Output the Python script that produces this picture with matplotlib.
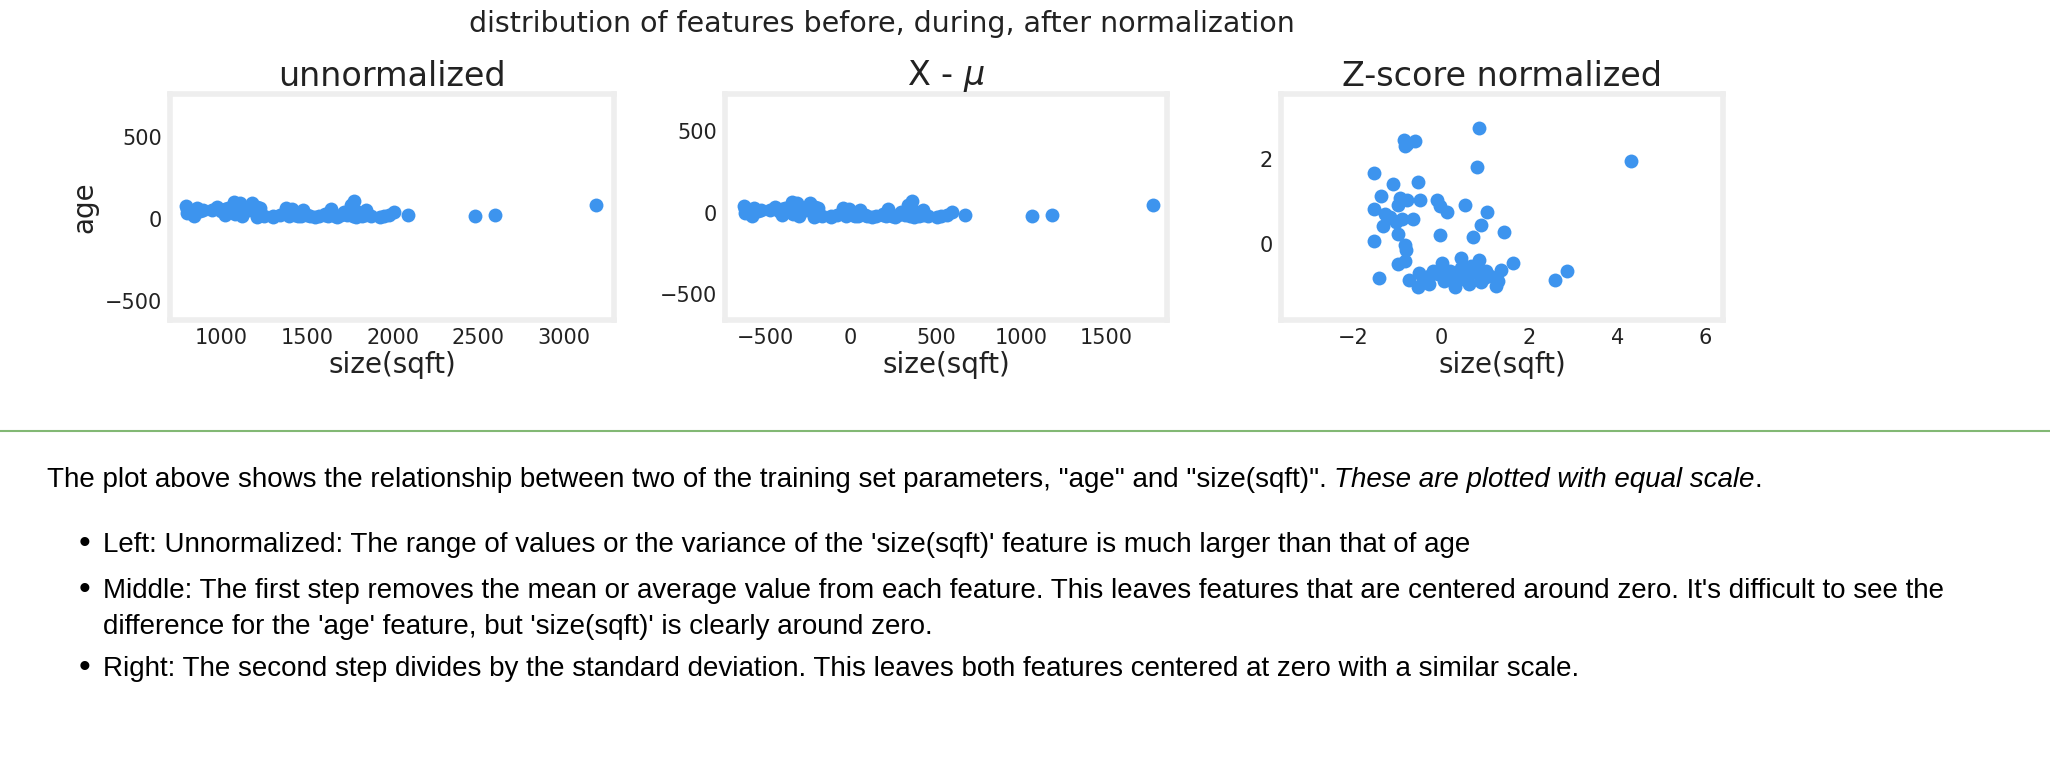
import matplotlib
matplotlib.use("Agg")
import matplotlib.pyplot as plt
import numpy as np

# z-score normalized values
z_size = [0.87,-0.84,-0.76,-0.58,-0.82,4.31,0.82,-1.52,-0.51,-1.08,-1.37,-0.93,-0.76,-0.47,-0.97,
          -0.10,-0.02,0.14,0.54,1.04,-1.51,-1.28,-1.15,-0.89,-0.63,-1.32,-1.02,0.90,1.44,-0.02,
          0.72,-0.97,-1.51,-0.82,-0.80,-0.82,-0.97,0.46,0.87,1.63,-1.41,2.87,2.59,
          -0.73,-0.50,-0.52,-0.28,-0.19,0.03,0.07,0.24,0.31,0.46,0.59,0.63,0.77,0.85,0.98,1.03,
          1.24,1.29,1.37,-0.28,-0.06,0.50,0.20,0.68,1.11,-0.41,0.11,0.90,0.37]
z_age = [2.73,2.46,2.35,2.42,2.31,1.95,1.81,1.67,1.45,1.40,1.12,1.08,1.02,1.02,0.92,
         1.04,0.88,0.75,0.92,0.75,0.81,0.69,0.62,0.59,0.58,0.42,0.50,0.44,0.28,0.21,
         0.15,0.23,0.05,-0.04,-0.15,-0.41,-0.48,-0.35,-0.38,-0.45,-0.82,-0.64,-0.87,
         -0.87,-0.69,-1.04,-0.96,-0.65,-0.46,-0.88,-0.77,-1.02,-0.58,-0.81,-0.96,-0.62,-0.73,-0.81,-0.65,
         -1.00,-0.88,-0.62,-0.77,-0.73,-0.72,-0.65,-0.54,-0.77,-0.88,-0.69,-0.92,-0.88]
mu_size, sigma_size = 1418.0, 411.0
mu_age, sigma_age = 38.6, 25.6

titles = ["unnormalized", r"X - $\mu$", "Z-score normalized"]

zs = np.array(z_size); za = np.array(z_age)
cent_s = zs * sigma_size; cent_a = za * sigma_age
raw_s = cent_s + mu_size; raw_a = cent_a + mu_age

W, H = 2050, 762
fig = plt.figure(figsize=(W/100, H/100), dpi=100)
col = '#3d94ee'

def box(x0, y0, x1, y1):
    return [x0/W, 1-y1/H, (x1-x0)/W, (y1-y0)/H]

axs = [fig.add_axes(box(170, 94, 614, 320)),
       fig.add_axes(box(725, 94, 1167, 320)),
       fig.add_axes(box(1281, 94, 1723, 320))]
data = [(raw_s, raw_a), (cent_s, cent_a), (zs, za)]
for ax, (x, y), t in zip(axs, data, titles):
    ax.scatter(x, y, s=100, color=col, linewidths=0)
    ax.set_title(t, fontsize=24, color='#222222', pad=6)
    ax.set_xlabel("size(sqft)", fontsize=20, color='#222222', labelpad=2)
    ax.tick_params(length=0, labelsize=15, colors='#222222', pad=6)
    for sp in ax.spines.values():
        sp.set_color('#eeeeee'); sp.set_linewidth(4)
axs[0].set_xlim(698, 3295); axs[0].set_ylim(-657+mu_age, 727+mu_age)
axs[0].set_xticks([1000, 1500, 2000, 2500, 3000]); axs[0].set_yticks([-500, 0, 500])
axs[0].set_ylabel("age", fontsize=20, color='#222222')
axs[1].set_xlim(-735, 1854); axs[1].set_ylim(-657, 727)
axs[1].set_xticks([-500, 0, 500, 1000, 1500]); axs[1].set_yticks([-500, 0, 500])
axs[2].set_xlim(-3.63, 6.4); axs[2].set_ylim(-1.81, 3.54)
axs[2].set_xticks([-2, 0, 2, 4, 6]); axs[2].set_yticks([0, 2])

fig.text(882/W, 1-24/H, "distribution of features before, during, after normalization",
         ha='center', va='center', fontsize=20.5, color='#222222')

fig.add_artist(plt.Line2D([0, 1], [1-431/H]*2, color='#82b874', lw=1.5))

tf = dict(fontsize=20, family='Liberation Sans', color='#000000', va='center')
t1 = fig.text(47/W, 1-480/H, 'The plot above shows the relationship between two of the training set parameters, "age" and "size(sqft)". ', **tf)
fig.canvas.draw()
bb = t1.get_window_extent()
fig.text(bb.x1/W, 1-480/H, 'These are plotted with equal scale', style='italic', **tf)
t2 = fig.text(0, 0, 'These are plotted with equal scale', style='italic', **tf)
fig.canvas.draw()
w2 = t2.get_window_extent().width; t2.remove()
fig.text((bb.x1+w2)/W, 1-480/H, '.', **tf)

bullets = [(545, "Left: Unnormalized: The range of values or the variance of the 'size(sqft)' feature is much larger than that of age", True),
           (591, "Middle: The first step removes the mean or average value from each feature. This leaves features that are centered around zero. It's difficult to see the", True),
           (627, "difference for the 'age' feature, but 'size(sqft)' is clearly around zero.", False),
           (669, "Right: The second step divides by the standard deviation. This leaves both features centered at zero with a similar scale.", True)]
for y, s, dot in bullets:
    if dot:
        fig.text(79/W, 1-y/H, "\u2022", **dict(tf, fontsize=24))
    fig.text(103/W, 1-y/H, s, **tf)

fig.savefig("out.png", dpi=100)
